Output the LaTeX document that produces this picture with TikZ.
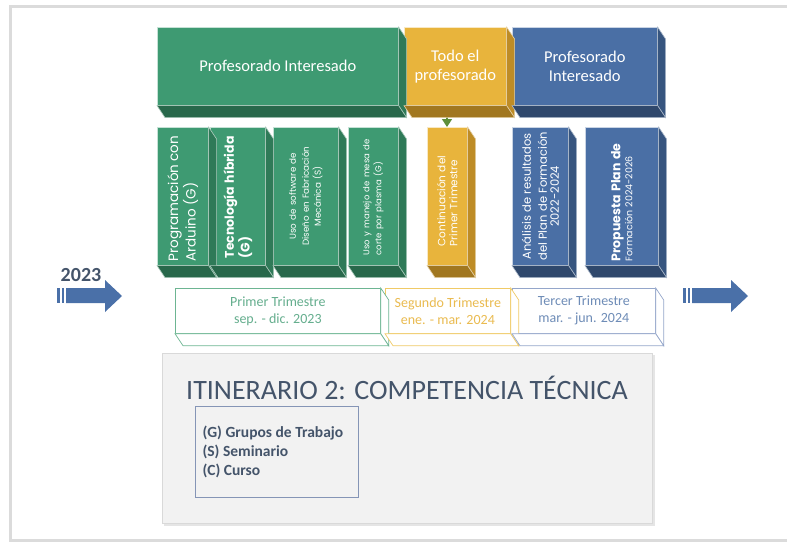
\documentclass[tikz,border=0pt]{standalone}
\usepackage{fontspec}
\setmainfont{Carlito}
\newfontfamily\geofont{Poppins}
\usepackage{tikz}
\usetikzlibrary{calc}
\usetikzlibrary{positioning}
\usetikzlibrary{arrows.meta}

\definecolor{grn}{HTML}{3E9A72}
\definecolor{grnD}{HTML}{2F7A58}
\definecolor{ylw}{HTML}{E8B43C}
\definecolor{ylwD}{HTML}{BE8C26}
\definecolor{blu}{HTML}{4A6FA5}
\definecolor{bluD}{HTML}{37557F}
\definecolor{slate}{HTML}{44546A}
\definecolor{arrB}{HTML}{4A70A8}
\definecolor{olv}{HTML}{5E8F3A}
\definecolor{grnL}{HTML}{6DB592}
\definecolor{ylwL}{HTML}{F0CA66}
\definecolor{bluL}{HTML}{94A6CA}

\begin{document}
\begin{tikzpicture}[x=1pt, y=-1pt,
  face/.style={rectangle, draw=white!70!#1, fill=#1, line width=0.6pt, anchor=north west, inner sep=0pt},
  tri/.style={rectangle, draw=#1, fill=white, line width=0.7pt, anchor=north west, inner sep=0pt},
  vlab/.style={rotate=90, text=white, inner sep=0pt, font=\geofont},
  hlab/.style={text=white, align=center, font=\fontsize{16.5}{19}\selectfont}]

\useasboundingbox (0,0) rectangle (787,542);

% page frame
\draw[black!14, line width=3pt] (787,6) -- (10,6) -- (10,540) -- (787,540);

% header boxes
\draw[olv, line width=1.5pt, -{Triangle[width=10pt,length=8pt]}] (447,110) -- (447,127);

\node at (157,27) [face=grn, minimum width=241pt, minimum height=78pt] (hdrG) {};
\node at (404,27) [face=ylw, minimum width=102pt, minimum height=78pt] (hdrY) {};
\node at (512,27) [face=blu, minimum width=145pt, minimum height=78pt] (hdrB) {};

\node [hlab] at (hdrG) (hG) {Profesorado Interesado};
\node [hlab] at (hdrY) (hY) {Todo el\\profesorado};
\node [hlab] at (hdrB) (hB) {Profesorado\\Interesado};

% activity columns
\node at (157,127) [face=grn, minimum width=51pt, minimum height=138pt] (c1) {};
\node at (210,127) [face=grn, minimum width=55pt, minimum height=138pt] (c2) {};
\node at (273,127) [face=grn, minimum width=65pt, minimum height=138pt] (c3) {};
\node at (348,127) [face=grn, minimum width=50pt, minimum height=138pt] (c4) {};
\node at (427,127) [face=ylw, minimum width=40pt, minimum height=138pt] (c5) {};
\node at (512,127) [face=blu, minimum width=56pt, minimum height=138pt] (c6) {};
\node at (585,127) [face=blu, minimum width=73pt, minimum height=138pt] (c7) {};

\node [vlab, text width=130pt, align=left] at (c1) (t1) {\fontsize{13.5}{16}\selectfont Programación con\\Arduino (G)};
\node [vlab, text width=124pt, align=left] at (c2) (t2) {\fontsize{12.5}{15}\selectfont\bfseries Tecnología híbrida\\(G)};
\node [vlab, text width=130pt, align=center] at (c3) (t3) {\fontsize{8.8}{13}\selectfont Uso de software de\\Diseño en Fabricación\\Mecánica (S)};
\node [vlab, text width=118pt, align=left] at (c4) (t4) {\fontsize{8.5}{11}\selectfont Uso y manejo de mesa de\\corte por plasma (G)};
\node [vlab, text width=100pt, align=left] at (c5) (t5) {\fontsize{10.5}{17}\selectfont Continuación del\\Primer Trimestre};
\node [vlab, text width=130pt, align=center] at (c6) (t6) {\fontsize{11.5}{16}\selectfont Análisis de resultados\\del Plan de Formación\\2022-2024};
\node [vlab, text width=130pt, align=left] at (c7) (t7) {\fontsize{12.5}{15}\selectfont\bfseries Propuesta Plan de\\{\mdseries\fontsize{9.5}{13}\selectfont Formación 2024-2026}};

% depth faces
\foreach \n/\cf in {hdrG/grnD, hdrY/ylwD, hdrB/bluD, c1/grnD, c2/grnD, c3/grnD, c4/grnD, c5/ylwD, c6/bluD, c7/bluD} {
  \filldraw[fill=\cf, draw=white!60!\cf, line width=0.6pt] (\n.north east) -- ++(8,12) -- ($(\n.south east)+(8,12)$) -- (\n.south east) -- cycle;
  \filldraw[fill=\cf!85!black, draw=white!60!\cf, line width=0.6pt] (\n.south west) -- ++(8,12) -- ($(\n.south east)+(8,12)$) -- (\n.south east) -- cycle;
}

% trimesters
\node at (175,288) [tri=grnL, minimum width=205pt, minimum height=45pt] (tr1) {};
\node at (385,288) [tri=ylwL, minimum width=125pt, minimum height=45pt] (tr2) {};
\node at (512,288) [tri=bluL, minimum width=143pt, minimum height=45pt] (tr3) {};

\foreach \n/\cf in {tr1/grnL, tr2/ylwL, tr3/bluL} {
  \filldraw[fill=white, draw=\cf, line width=0.7pt] (\n.north east) -- ++(8,12) -- ($(\n.south east)+(8,12)$) -- (\n.south east) -- cycle;
  \filldraw[fill=white, draw=\cf, line width=0.7pt] (\n.south west) -- ++(8,12) -- ($(\n.south east)+(8,12)$) -- (\n.south east) -- cycle;
}

\node [align=center, text=grn!80!white, font=\fontsize{14}{17}\selectfont] at (tr1) (l1) {Primer Trimestre\\sep. - dic. 2023};
\node [align=center, text=ylw!90!white, font=\fontsize{14}{17}\selectfont] at (tr2) (l2) {Segundo Trimestre\\ene. - mar. 2024};
\node [align=center, text=blu!80!white, font=\fontsize{14}{17}\selectfont] at (tr3) (l3) {Tercer Trimestre\\mar. - jun. 2024};

% timeline arrows
\foreach \ax in {57,683} {
  \fill[arrB] (\ax,288) rectangle ++(3,15);
  \fill[arrB] (\ax+5,288) rectangle ++(2,15);
  \fill[arrB] (\ax+9,288) -- (\ax+48,288) -- (\ax+48,280) -- (\ax+65,296) -- (\ax+48,312) -- (\ax+48,303) -- (\ax+9,303) -- cycle;
}
\node [text=slate, font=\fontsize{20}{24}\selectfont\bfseries] at (81,275) (yr) {2023};

% itinerary panel
\fill[black!10] (164,355) rectangle (655,526);
\node at (162,353) [rectangle, draw=black!15, fill=black!5, minimum width=490pt, minimum height=170pt, anchor=north west] (panel) {};
\node [text=slate, font=\fontsize{28}{34}\selectfont] at (407,388) (title) {ITINERARIO 2: COMPETENCIA TÉCNICA};
\node at (195,406) [rectangle, draw=bluL!90!black, line width=0.8pt, minimum width=163pt, minimum height=91pt, anchor=north west] (legend) {};
\node [anchor=west, align=left, text=slate, font=\fontsize{15.5}{19}\selectfont\bfseries] at (199,452) (ltext) {(G) Grupos de Trabajo\\(S) Seminario\\(C) Curso};

\end{tikzpicture}
\end{document}
